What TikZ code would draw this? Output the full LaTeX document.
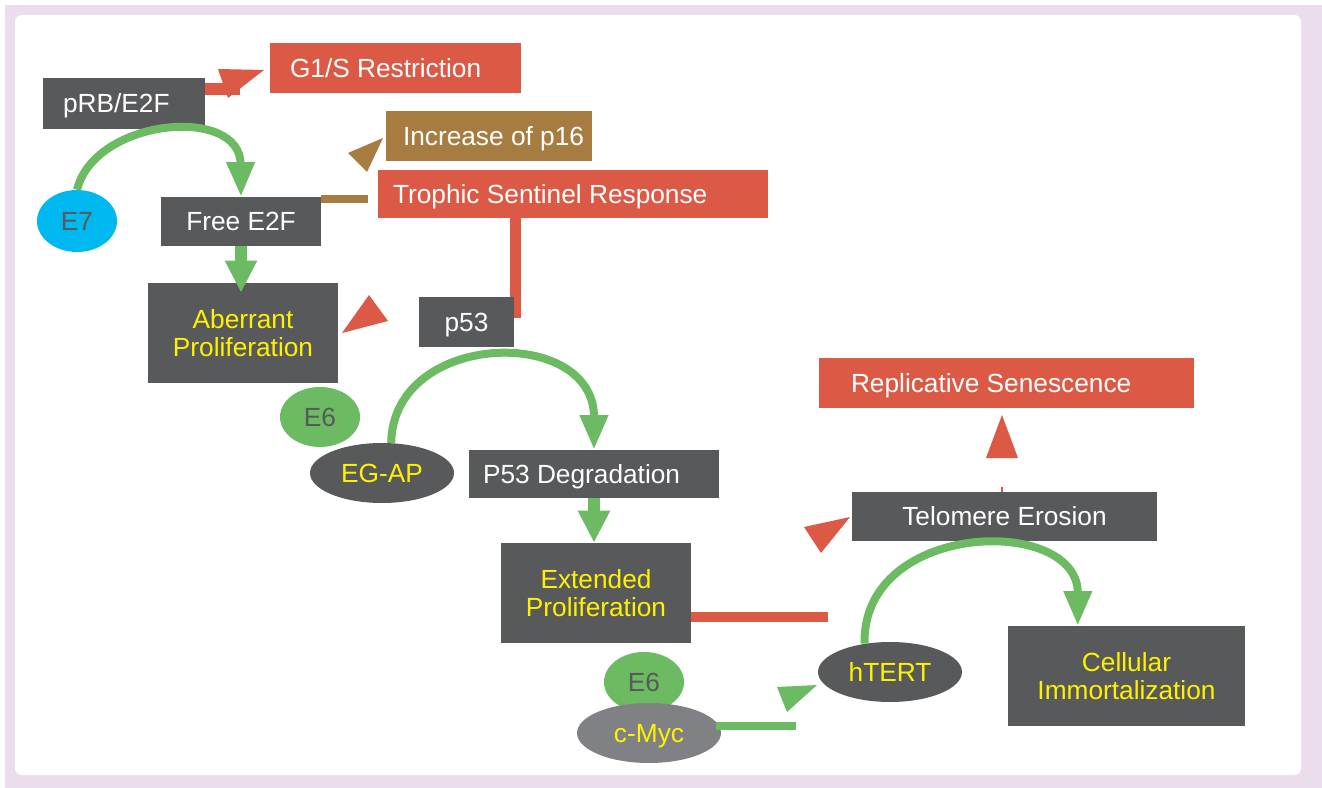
\documentclass[tikz,border=0pt]{standalone}
\usepackage{fontspec}
\setmainfont{Liberation Sans}
\usetikzlibrary{arrows.meta,calc,shapes.geometric}
\definecolor{dk}{HTML}{58595B}
\definecolor{rd}{HTML}{DC5A45}
\definecolor{br}{HTML}{A67C40}
\definecolor{gr}{HTML}{6CBB63}
\definecolor{cy}{HTML}{00B8F0}
\definecolor{gy}{HTML}{808184}
\definecolor{yel}{HTML}{FFF200}
\definecolor{lav}{HTML}{EBDDEC}
\pgfdeclarelayer{bg}
\pgfsetlayers{bg,main}
\newcommand{\lbox}[2]{\makebox[#1][l]{#2}}
\begin{document}
\begin{tikzpicture}[x=0.75pt,y=-0.75pt,
  every node/.style={font=\fontsize{19.7}{21.5}\selectfont, inner sep=0pt},
  box/.style={rectangle, fill=dk, text=white, text height=14.1pt, text depth=0pt},
  ybox/.style={rectangle, fill=dk, text=yel, align=center},
  ell/.style={ellipse, fill=dk, text=yel, text height=14.1pt, text depth=0pt},
  garc/.style={draw=gr, line width=6pt, -{Triangle[width=20pt,length=26pt]}},
  gstr/.style={draw=gr, line width=9pt, -{Triangle[width=22.5pt,length=24pt]}},
  rline/.style={draw=rd, line width=#1},
  head/.style={fill=#1}]
\useasboundingbox (0,0) rectangle (1322,788);

% boxes
\node[box, minimum width=121.5pt, minimum height=38.25pt] (prb) at (124,103.5) {\lbox{91.5pt}{pRB/E2F}};
\node[box, fill=rd, minimum width=188.25pt, minimum height=37.5pt] (g1s) at (395.5,68) {\lbox{158.25pt}{G1/S Restriction}};
\node[box, fill=br, minimum width=154.5pt, minimum height=37.5pt] (p16) at (489,136) {\lbox{129pt}{Increase of p16}};
\node[box, fill=rd, minimum width=292.5pt, minimum height=36pt] (tsr) at (573,194) {\lbox{270pt}{Trophic Sentinel Response}};
\node[box, minimum width=120pt, minimum height=36.75pt] (free) at (241,221.5) {Free E2F};
\node[box, minimum width=71.25pt, minimum height=37.5pt] (p53) at (466.5,322) {p53};
\node[ybox, minimum width=142.5pt, minimum height=75pt] (aber) at (243,333) {Aberrant\\Proliferation};
\node[box, minimum width=187.5pt, minimum height=36pt] (p53d) at (594,474) {\lbox{166.5pt}{P53 Degradation}};
\node[ybox, minimum width=142.5pt, minimum height=75pt] (ext) at (596,593) {Extended\\Proliferation};
\node[box, minimum width=228.75pt, minimum height=36.75pt] (telo) at (1004.5,516.5) {Telomere Erosion};
\node[box, fill=rd, minimum width=281.25pt, minimum height=37.5pt] (repl) at (1006.5,383) {\lbox{233.25pt}{Replicative Senescence}};
\node[ybox, minimum width=177.75pt, minimum height=75pt] (cell) at (1126.5,676) {Cellular\\Immortalization};

% ellipses
\node[ell, fill=cy, text=dk, minimum width=60pt, minimum height=46.5pt] (e7) at (77,221) {E7};
\node[ell, fill=gr, text=dk, minimum width=60pt, minimum height=45pt] (e6a) at (320,417) {E6};
\node[ell, minimum width=108pt, minimum height=45pt] (egap) at (382,473) {EG-AP};
\node[ell, fill=gr, text=dk, minimum width=60pt, minimum height=45pt] (e6b) at (644,682) {E6};
\node[ell, fill=gy, minimum width=108pt, minimum height=45pt] (cmyc) at (649,733) {c-Myc};
\node[ell, minimum width=108pt, minimum height=45pt] (htert) at (890,672) {hTERT};

% background layer
\begin{pgfonlayer}{bg}
\fill[white] (0,0) rectangle (1322,788);
\fill[lav] (5,5) rectangle (1322,788);
\fill[white, rounded corners=5pt] (15,15) rectangle (1301,775);
\coordinate (tse) at (515.5,318);
\draw[rline=8.25pt] (tsr.south -| tse) -- (tse);
\end{pgfonlayer}

% curved green arrows
\draw[garc] (e7.north) .. controls (95,118) and (240,105) .. (free.north);
\draw[garc] (egap.73) .. controls (393,330) and (594,325) .. (p53d.north);
\coordinate (celltip) at ($(cell.north west)+(70,0)$);
\draw[garc] (htert.132) .. controls (862,520) and (1078,515) .. (celltip);

% straight green arrows
\draw[gstr, shorten >=-7.5pt] (free.south) -- (free.south |- aber.north);
\draw[gstr] (p53d.south) -- (p53d.south |- ext.north);

% G1/S arrow
\coordinate (g1e) at (240,89);
\draw[rline=9pt] (prb.east |- g1e) -- (g1e);
\fill[head=rd] (218,69) -- (264,70) -- (228,98) -- cycle;

% brown p16 arrow
\coordinate (bre) at (368,199);
\draw[draw=br, line width=6pt] (free.east |- bre) -- (bre);
\fill[head=br] (348,153) -- (383,138) -- (367,172) -- cycle;

% red head near aberrant
\fill[head=rd] (369,295) -- (388,321) -- (342,333) -- cycle;

% extended proliferation bar
\coordinate (exe) at (828,617);
\draw[rline=7.5pt] (ext.east |- exe) -- (exe);

% c-Myc bar and head
\coordinate (cme) at (796,726);
\draw[draw=gr, line width=6pt] (cmyc.10 |- cme) -- (cme);
\fill[head=gr] (777,687) -- (817,685) -- (787,712) -- cycle;

% telomere heads
\fill[head=rd] (804,527) -- (850,517) -- (821,553) -- cycle;
\coordinate (tk) at (1002,487);
\draw[rline=1.2pt] (tk) -- (tk |- telo.north);
\fill[head=rd] (1002,415) -- (1018,458) -- (986,458) -- cycle;
\end{tikzpicture}
\end{document}
